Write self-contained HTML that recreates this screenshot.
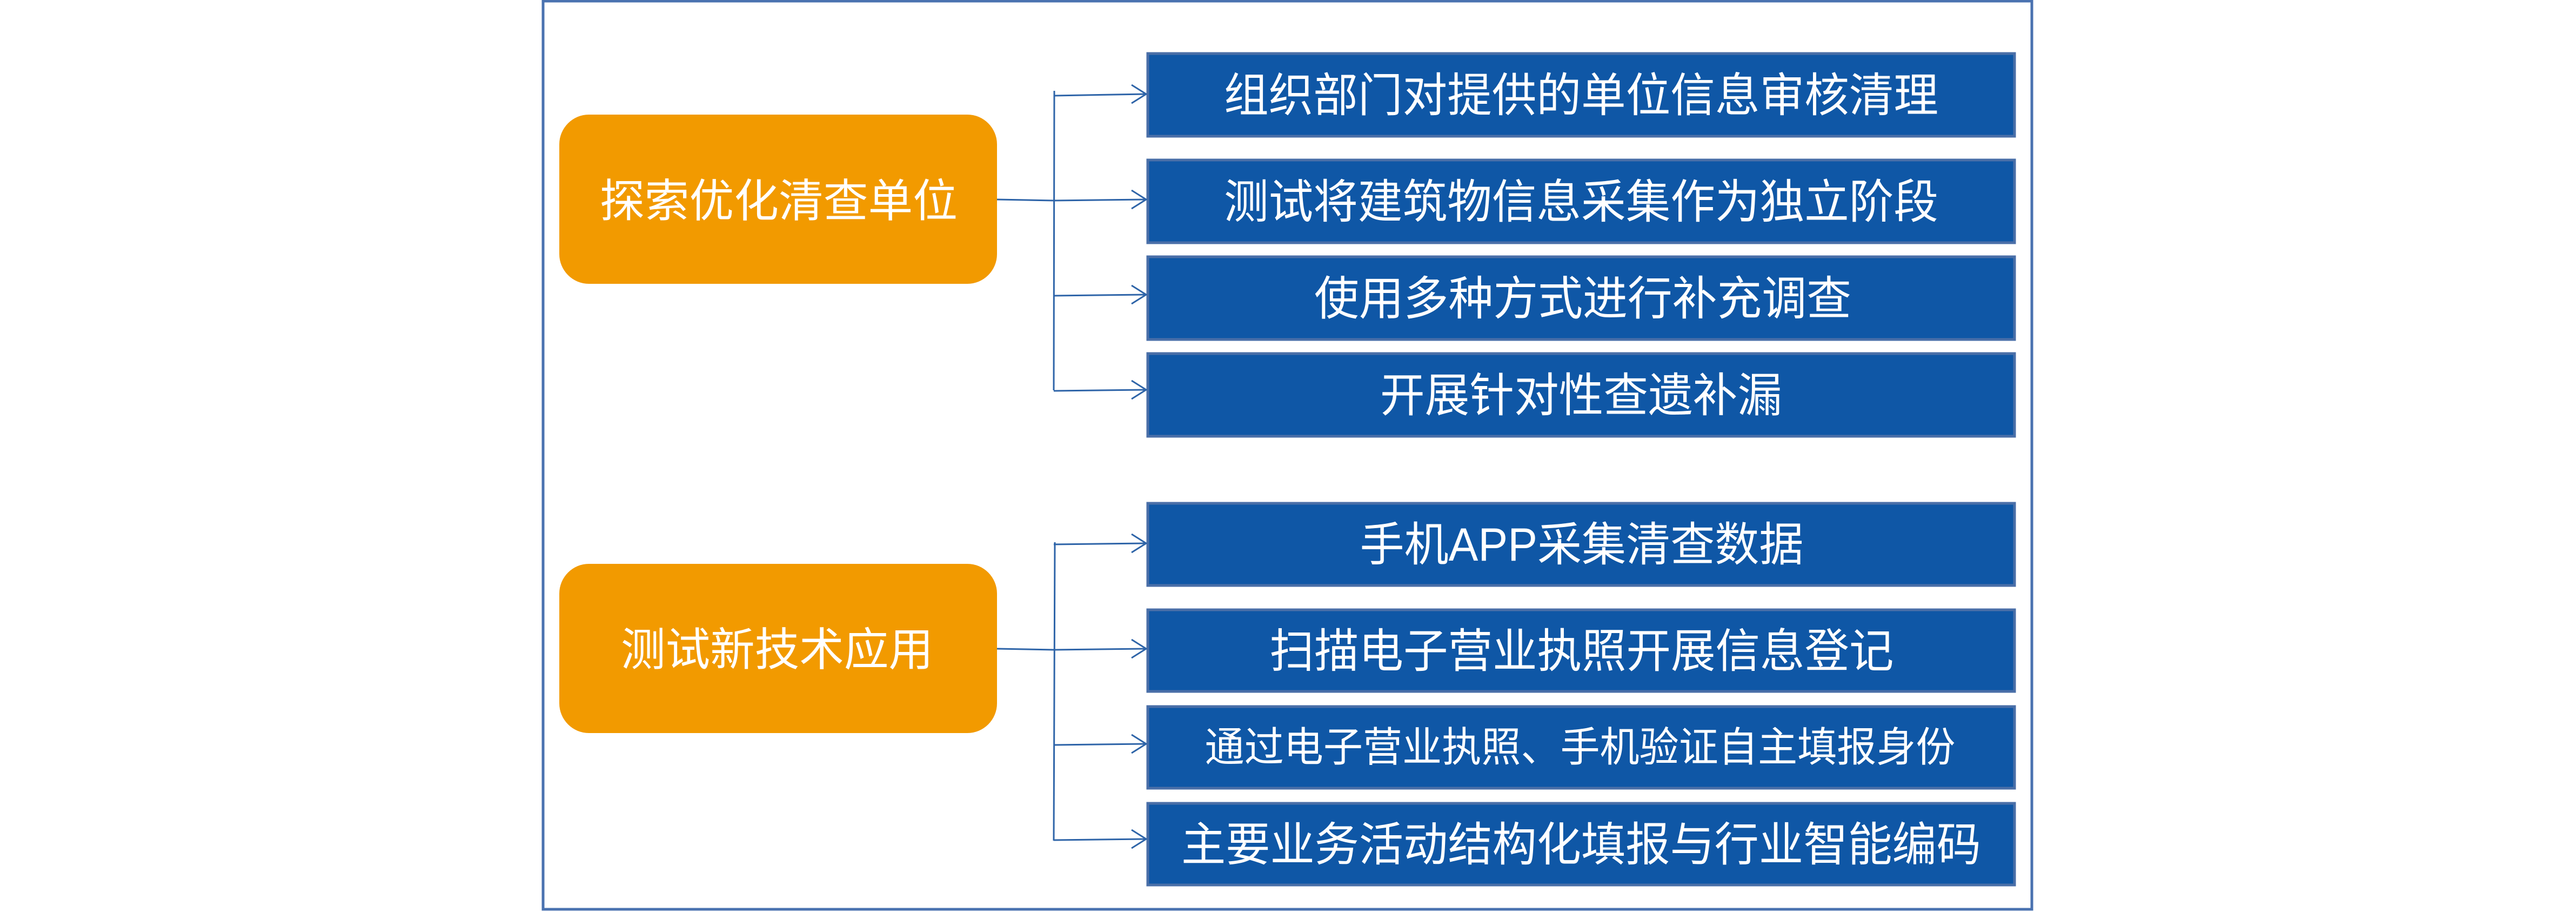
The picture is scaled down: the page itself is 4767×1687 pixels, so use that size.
<!DOCTYPE html>
<html><head><meta charset="utf-8"><style>
html,body{margin:0;padding:0;background:#fff;}
svg{display:block;}
text{font-family:"Liberation Sans","Noto Sans CJK SC",sans-serif;fill:#fff;dominant-baseline:central;text-anchor:middle;}
</style></head><body>
<svg width="4767" height="1687" viewBox="0 0 4767 1687" xmlns="http://www.w3.org/2000/svg">
<rect x="1005" y="2" width="2755" height="1680" fill="none" stroke="#4a72b0" stroke-width="5"/>
<rect x="1035" y="212" width="810" height="313" rx="55" fill="#f29a00"/>
<text x="1441" y="372" font-size="84" textLength="662" lengthAdjust="spacingAndGlyphs">探索优化清查单位</text>
<rect x="1035" y="1043" width="810" height="313" rx="55" fill="#f29a00"/>
<text x="1438" y="1202" font-size="84" textLength="578" lengthAdjust="spacingAndGlyphs">测试新技术应用</text>
<g fill="#0f57a6" stroke="#4a6fa8" stroke-width="5">
<rect x="2124" y="99" width="1604" height="153"/>
<rect x="2124" y="296" width="1604" height="153"/>
<rect x="2124" y="475" width="1604" height="153"/>
<rect x="2124" y="654" width="1604" height="153"/>
<rect x="2124" y="931" width="1604" height="152"/>
<rect x="2124" y="1128" width="1604" height="151"/>
<rect x="2124" y="1307" width="1604" height="151"/>
<rect x="2124" y="1486" width="1604" height="151"/>
</g>
<g font-size="86">
<text x="2926" y="177" textLength="1322" lengthAdjust="spacingAndGlyphs">组织部门对提供的单位信息审核清理</text>
<text x="2926" y="374" textLength="1322" lengthAdjust="spacingAndGlyphs">测试将建筑物信息采集作为独立阶段</text>
<text x="2929" y="553" textLength="994" lengthAdjust="spacingAndGlyphs">使用多种方式进行补充调查</text>
<text x="2926" y="732" textLength="744" lengthAdjust="spacingAndGlyphs">开展针对性查遗补漏</text>
<text x="2927" y="1008" textLength="821" lengthAdjust="spacingAndGlyphs">手机APP采集清查数据</text>
<text x="2927" y="1205" textLength="1155" lengthAdjust="spacingAndGlyphs">扫描电子营业执照开展信息登记</text>
<text x="2924" y="1383" font-size="76" textLength="1389" lengthAdjust="spacingAndGlyphs">通过电子营业执照、手机验证自主填报身份</text>
<text x="2926" y="1563" textLength="1480" lengthAdjust="spacingAndGlyphs">主要业务活动结构化填报与行业智能编码</text>
</g>
<g stroke="#2e64a8" stroke-width="3" fill="none">
<path d="M1845 369 L1950 371"/>
<path d="M1951 168 L1950 722"/>
<path d="M1950 177 L2120 174 M1950 371 L2120 369 M1950 547 L2120 545 M1950 723 L2120 721"/>
<path d="M1845 1200 L1951 1202"/>
<path d="M1952 1003 L1950 1555"/>
<path d="M1950 1007 L2120 1005 M1950 1202 L2120 1200 M1950 1378 L2120 1376 M1950 1554 L2120 1552"/>
<path d="M2094 157 L2121 174 L2094 191 M2094 352 L2121 369 L2094 386 M2094 528 L2121 545 L2094 562 M2094 704 L2121 721 L2094 738"/>
<path d="M2094 988 L2121 1005 L2094 1022 M2094 1183 L2121 1200 L2094 1217 M2094 1359 L2121 1376 L2094 1393 M2094 1535 L2121 1552 L2094 1569"/>
</g>
</svg>
</body></html>
